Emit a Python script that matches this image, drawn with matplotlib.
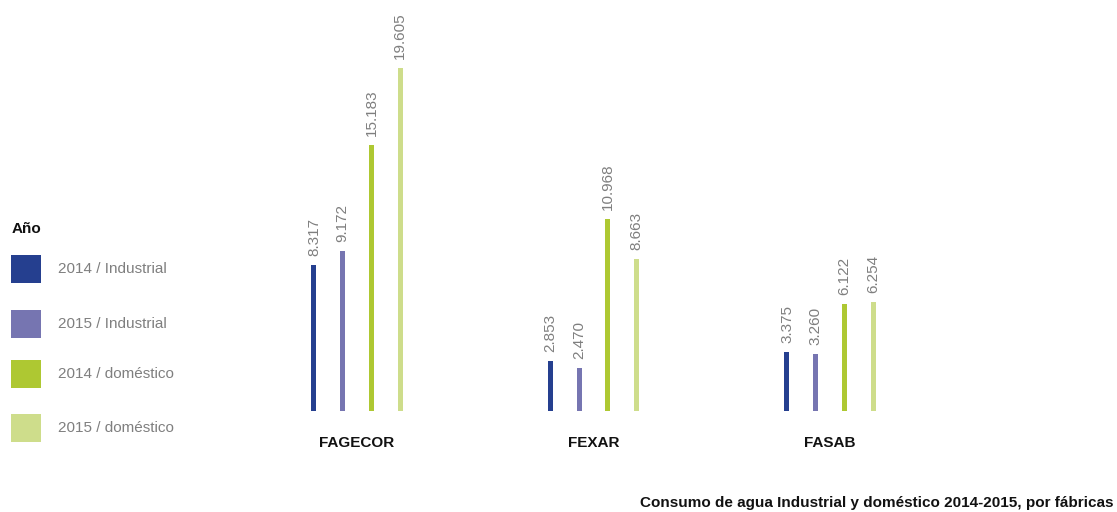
import matplotlib
matplotlib.use("Agg")
import matplotlib.pyplot as plt
from matplotlib.patches import Rectangle

plt.rcParams['font.family'] = ['Liberation Sans', 'DejaVu Sans']

factories = ["FAGECOR", "FEXAR", "FASAB"]
series_names = ["2014 / Industrial", "2015 / Industrial", "2014 / doméstico", "2015 / doméstico"]
series_colors = ["#253F8F", "#7675B1", "#AEC832", "#CEDD8B"]
values = [
    [8317, 2853, 3375],    # 2014 / Industrial
    [9172, 2470, 3260],    # 2015 / Industrial
    [15183, 10968, 6122],  # 2014 / doméstico
    [19605, 8663, 6254],   # 2015 / doméstico
]
value_labels = [
    ["8.317", "2.853", "3.375"],
    ["9.172", "2.470", "3.260"],
    ["15.183", "10.968", "6.122"],
    ["19.605", "8.663", "6.254"],
]
legend_title = "Año"
caption = "Consumo de agua Industrial y doméstico 2014-2015, por fábricas"

W, H = 1117, 512
fig = plt.figure(figsize=(W / 100, H / 100), dpi=100)

ax_left_px, ax_right_px = 240, 950
ax_top_px, ax_base_px = 40, 411
ax = fig.add_axes([ax_left_px / W, (H - ax_base_px) / H,
                   (ax_right_px - ax_left_px) / W, (ax_base_px - ax_top_px) / H])
px_per_unit = 236.5
center0 = 357
ax.set_xlim(-(center0 - ax_left_px) / px_per_unit, (ax_right_px - center0) / px_per_unit)
ymax = 19605 * (ax_base_px - ax_top_px) / (ax_base_px - 68)
ax.set_ylim(0, ymax)
ax.axis("off")

offsets = [-0.182, -0.061, 0.061, 0.182]
bar_w = 5 / px_per_unit
unit_per_px_y = ymax / (ax_base_px - ax_top_px)
for s in range(4):
    xs = [i + offsets[s] for i in range(len(factories))]
    ax.bar(xs, values[s], width=bar_w, color=series_colors[s], linewidth=0)
    for x, v, lab in zip(xs, values[s], value_labels[s]):
        ax.text(x, v + 9 * unit_per_px_y, lab, rotation=90, ha="center", va="bottom",
                fontsize=11, color="#7f7f7f", clip_on=False)

for i, f in enumerate(factories):
    ax.text(i, -32 * unit_per_px_y, f, ha="center", va="center",
            fontsize=11, fontweight="bold", color="#111111", clip_on=False)

# legend drawn manually
fig.text(12 / W, 1 - 229 / H, legend_title, fontsize=11, fontweight="bold",
         color="#111111", ha="left", va="center")
rows_px = [269, 324, 374, 428]
for name, col, yc in zip(series_names, series_colors, rows_px):
    fig.patches.append(Rectangle((11 / W, 1 - (yc + 14) / H), 30 / W, 28 / H,
                                 transform=fig.transFigure, facecolor=col,
                                 edgecolor="none"))
    fig.text(58 / W, 1 - yc / H, name, fontsize=11, color="#7f7f7f",
             ha="left", va="center")

fig.text(1113 / W, 1 - 503 / H, caption, fontsize=11, fontweight="bold",
         color="#111111", ha="right", va="center")

fig.savefig("out.png", dpi=100)
